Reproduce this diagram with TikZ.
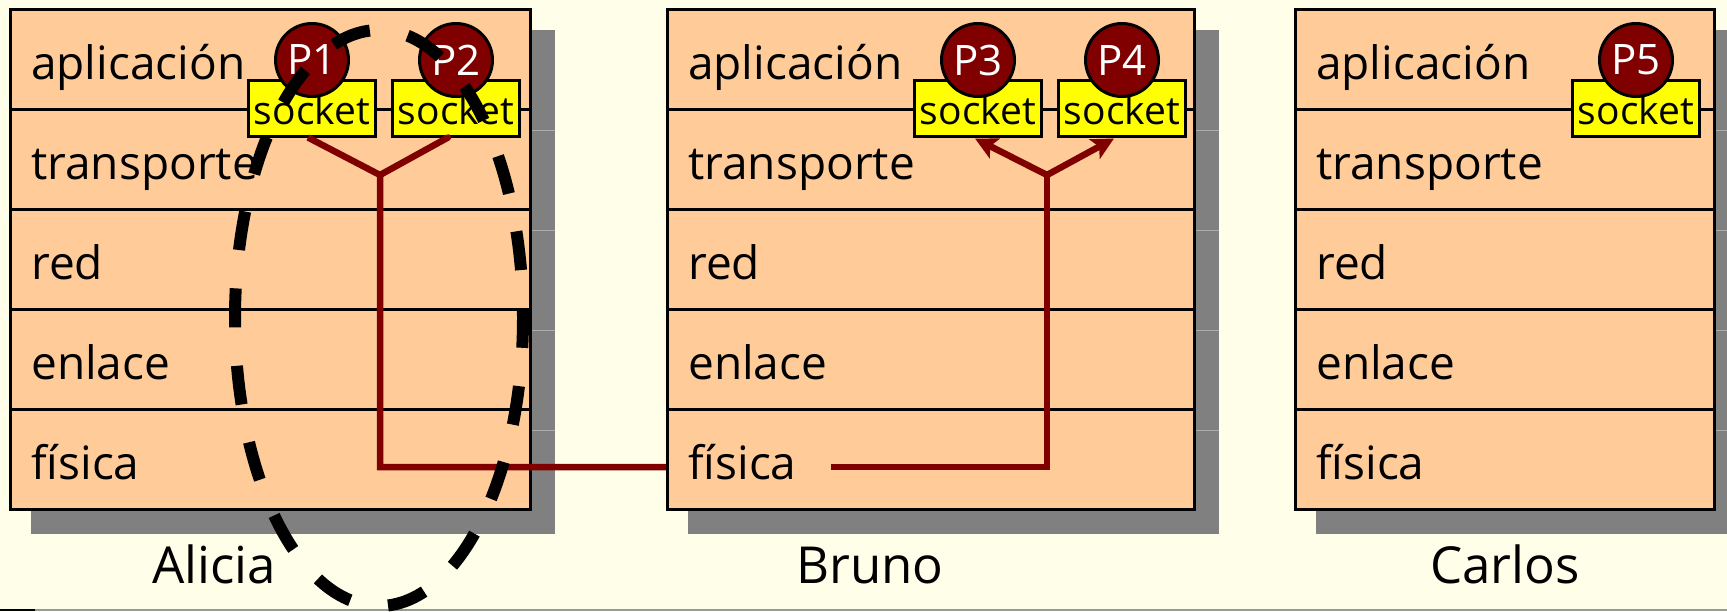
\documentclass[tikz,border=0pt]{standalone}
\usepackage{fontspec}
\setmainfont{Open Sans}
\usetikzlibrary{arrows.meta,calc}

\definecolor{bg}{RGB}{255,254,232}
\definecolor{layerfill}{RGB}{255,204,153}
\definecolor{shadowgray}{RGB}{128,128,128}
\definecolor{seam}{RGB}{172,172,172}
\definecolor{proc}{RGB}{128,0,0}
\definecolor{sockfill}{RGB}{255,255,0}

\tikzset{
  layerbox/.style={draw=black, line width=3pt, fill=layerfill,
    minimum width=#1pt, minimum height=100pt, anchor=north west,
    inner sep=0pt, outer sep=0pt},
  layertext/.style={anchor=base west, inner sep=0pt,
    font=\fontsize{46}{50}\selectfont},
  hostname/.style={anchor=base, inner sep=0pt,
    font=\fontsize{51}{55}\selectfont},
  sockbox/.style={draw=black, line width=3pt, fill=sockfill,
    minimum width=127pt, minimum height=56pt, inner sep=0pt,
    text height=32pt, text depth=0pt,
    font=\fontsize{39}{40}\selectfont},
  procdot/.style={circle, draw=black, line width=3pt, fill=proc,
    minimum size=73pt, inner sep=0pt, text=white,
    font=\fontsize{42}{44}\selectfont},
  link/.style={draw=proc, line width=6.5pt, line join=miter},
  sockarrow/.style={-{Stealth[length=22pt,width=22pt,inset=5pt]}},
  groupring/.style={draw=black, line width=12pt,
    dash pattern=on 39pt off 38.5pt, dash phase=29.5pt},
}

% one protocol stack: #1 name prefix, #2 left edge, #3 width
\newcommand\protostack[3]{%
  \fill[shadowgray] ({#2+21},30) rectangle ({#2+#3+25},534);
  \foreach \sy in {130,230,330,430}
    \draw[seam, line width=1pt] ({#2+#3},\sy) -- ({#2+#3+25},\sy);
  \foreach \i/\lbl in {1/aplicación,2/transporte,3/red,4/enlace,5/física}{
    \node[layerbox=#3] (#1-\i) at (#2,{9+100*(\i-1)}) {};
    \node[layertext] (#1-\i-t) at ({#2+21},{79+100*(\i-1)}) {\lbl};
  }%
}

\begin{document}
\begin{tikzpicture}[x=1pt,y=-1pt]
  \fill[bg] (0,0) rectangle (1727,611);
  \useasboundingbox (0,0) rectangle (1727,611);
  \clip (0,0) rectangle (1727,611);

  % lower edge of the slide
  \draw[black!40, line width=1.5pt] (0,610) -- (1727,610);
  \draw[black, line width=2pt] (0,610) -- (35,610);

  % the three hosts
  \protostack{A}{10}{520}
  \protostack{B}{667}{527}
  \protostack{C}{1295}{419}

  \node[hostname] (nA) at (214,583) {Alicia};
  \node[hostname] (nB) at (870,583) {Bruno};
  \node[hostname] (nC) at (1505,583) {Carlos};

  % wiring points
  \coordinate (jA) at (380,175);
  \coordinate (jB) at (1047,175);
  \coordinate (wireA) at (666,467);
  \coordinate (wireB) at (831,467);

  % sockets
  \node[sockbox] (s1) at (312,108) {socket};
  \node[sockbox] (s2) at (456,108) {socket};
  \node[sockbox] (s3) at (978,108) {socket};
  \node[sockbox] (s4) at (1122,108) {socket};
  \node[sockbox] (s5) at (1636,108) {socket};

  % data path from Alicia down to the wire and up to Bruno
  \draw[link] ([xshift=-4pt]s1.south) -- (jA) -- (jA |- wireA) -- (wireA);
  \draw[link, line cap=round] ([xshift=-8pt]s2.south) -- (jA);
  \draw[link] (wireB) -| (jB);
  \draw[link, line cap=round, sockarrow] (jB) -- ([xshift=-3pt,yshift=-1pt]s3.south);
  \draw[link, line cap=round, sockarrow] (jB) -- ([xshift=-8pt,yshift=-1pt]s4.south);

  % processes
  \node[procdot] (p1) at (312,60) {P1};
  \node[procdot] (p2) at (456,60) {P2};
  \node[procdot] (p3) at (978,60) {P3};
  \node[procdot] (p4) at (1122,60) {P4};
  \node[procdot] (p5) at (1636,60) {P5};

  % process group on Alicia
  \draw[groupring] (379,318) ellipse [x radius=144pt, y radius=288pt];
\end{tikzpicture}
\end{document}
